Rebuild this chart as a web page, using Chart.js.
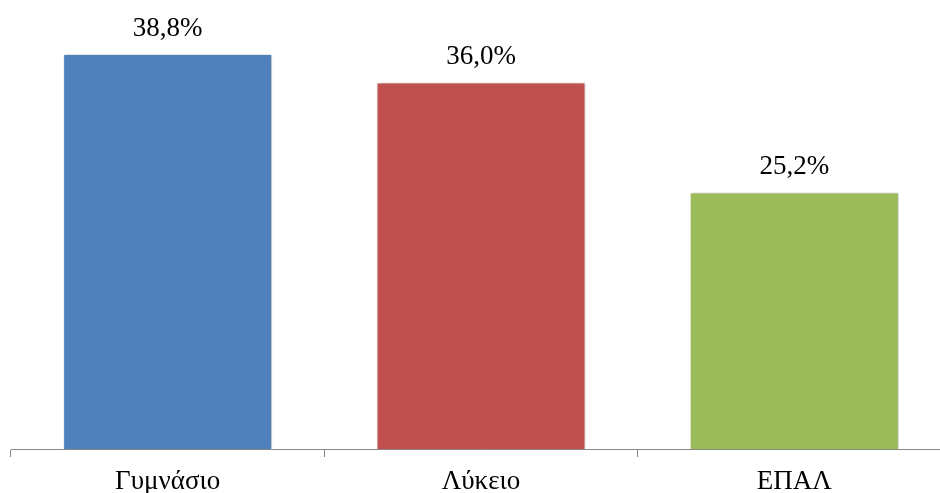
<!DOCTYPE html>
<html>
<head>
<meta charset="utf-8">
<script src="https://cdn.jsdelivr.net/npm/chart.js@4.4.1/dist/chart.umd.min.js"></script>
<style>
  html, body { margin: 0; padding: 0; background: #fff; overflow: hidden; }
  #wrap { position: relative; width: 962px; height: 493px; }
</style>
</head>
<body>
<div id="wrap"><canvas id="chart"></canvas></div>
<script>
// School types and the share of each
const categories = ['Γυμνάσιο', 'Λύκειο', 'ΕΠΑΛ'];
const shares = [38.8, 36.0, 25.2];
const barColors = ['#4F81BD', '#C0504D', '#9BBB59'];

const serif = '"Liberation Serif", "Times New Roman", serif';
const fmt = v => v.toFixed(1).replace('.', ',') + '%';

// Soft shadow behind the bars
const barShadow = {
  id: 'barShadow',
  beforeDatasetsDraw(chart) {
    const ctx = chart.ctx;
    ctx.save();
    ctx.shadowColor = 'rgba(0,0,0,0.28)';
    ctx.shadowBlur = 4;
    ctx.shadowOffsetX = 1;
    ctx.shadowOffsetY = 0;
  },
  afterDatasetsDraw(chart) {
    chart.ctx.restore();
  }
};

// Value labels above each bar
const valueLabels = {
  id: 'valueLabels',
  afterDatasetsDraw(chart) {
    const ctx = chart.ctx;
    const meta = chart.getDatasetMeta(0);
    ctx.save();
    ctx.font = '27px ' + serif;
    ctx.fillStyle = '#000';
    ctx.textAlign = 'center';
    ctx.textBaseline = 'alphabetic';
    meta.data.forEach((bar, i) => {
      ctx.fillText(fmt(chart.data.datasets[0].data[i]), bar.x, bar.y - 18);
    });
    ctx.restore();
  }
};

new Chart(document.getElementById('chart'), {
  type: 'bar',
  data: {
    labels: categories,
    datasets: [{
      data: shares,
      backgroundColor: barColors,
      borderColor: 'rgba(255,255,255,0.9)',
      borderWidth: 1,
      categoryPercentage: 0.667,
      barPercentage: 1.0
    }]
  },
  options: {
    responsive: true,
    maintainAspectRatio: false,
    animation: false,
    layout: { padding: { left: 11, right: 11, top: 0, bottom: 0 } },
    plugins: {
      legend: { display: false },
      tooltip: { enabled: false }
    },
    scales: {
      x: {
        afterFit(scale) { scale.height = 44; },
        grid: {
          offset: true,
          drawOnChartArea: false,
          drawTicks: true,
          tickLength: 8,
          color: '#868686',
          lineWidth: 1
        },
        border: { display: true, color: '#868686', width: 1 },
        ticks: {
          color: '#000',
          padding: 9,
          font: { family: serif, size: 27 }
        }
      },
      y: {
        display: false,
        min: 0,
        max: 44.1
      }
    }
  },
  plugins: [barShadow, valueLabels]
});
</script>
</body>
</html>
